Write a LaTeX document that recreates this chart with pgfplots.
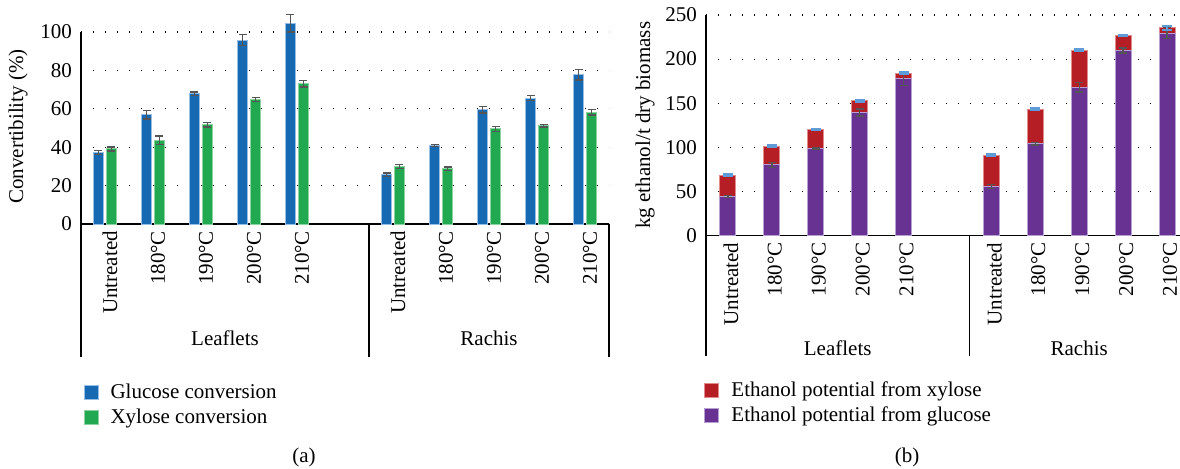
\documentclass[border=0pt]{standalone}
\usepackage{fontspec}
\setmainfont{Liberation Serif}
\usepackage{pgfplots}
\usepackage{pgfplotstable}
\pgfplotsset{compat=1.18}

\definecolor{cblue}{RGB}{23,105,178}
\definecolor{cblueedge}{RGB}{150,190,230}
\definecolor{cgreen}{RGB}{34,168,80}
\definecolor{cgreenedge}{RGB}{140,210,160}
\definecolor{cred}{RGB}{180,30,36}
\definecolor{crededge}{RGB}{225,140,140}
\definecolor{cpurple}{RGB}{103,50,145}
\definecolor{cpurpleedge}{RGB}{185,160,210}
\definecolor{errgray}{RGB}{85,85,85}
\definecolor{capblue}{RGB}{95,155,215}

\pgfplotstableread{
x glc glcerr xyl xylerr
0 37.3 1.0 39.1 1.0
1 56.9 2.2 43.6 2.3
2 67.9 0.9 51.7 1.2
3 95.8 2.8 64.9 1.1
4 104.5 4.5 73.1 1.7
6 25.7 0.9 30.0 1.0
7 41.0 0.5 28.8 0.9
8 59.5 1.7 49.5 1.3
9 65.6 1.2 51.2 0.6
10 77.8 2.8 58.2 1.5
}\convdata

\pgfplotstableread{
x glc glcerr xyl total totalerr
0 44.4 1.0 24.1 68.5 0.8
1 80.2 2.8 21.1 101.3 0.8
2 98.3 1.0 21.8 120.1 0.8
3 139.3 4.0 13.6 152.9 0.8
4 177.7 7.5 6.4 184.1 0.8
6 55.7 2.3 35.4 91.1 0.8
7 103.9 1.5 39.2 143.1 1.0
8 167.9 5.3 42.2 210.1 1.0
9 209.7 2.8 17.0 226.7 0.8
10 229.3 6.2 6.0 235.3 2.0
}\ethdata

\pgfplotsset{
  sqlegend/.style={legend image code/.code={\fill[##1] (0pt,-3.5pt) rectangle (7pt,3.5pt);}},
  base/.style={
    scale only axis, xmin=-0.5, xmax=10.5, ymin=0,
    axis x line*=bottom, axis y line*=left,
    axis line style={line width=0.6pt, black},
    major tick length=0pt,
    ymajorgrids,
    major grid style={black, line width=0.6pt, dash pattern=on 0.6pt off 5.4pt},
    xtick={0,1,2,3,4,6,7,8,9,10},
    xticklabels={Untreated,180°C,190°C,200°C,210°C,Untreated,180°C,190°C,200°C,210°C},
    xticklabel style={rotate=90, anchor=east},
    yticklabel style={xshift=-1pt},
    /pgf/number format/assume math mode=true,
    clip=false,
    legend cell align=left,
  },
  hiddenbase/.style={
    scale only axis, xmin=-0.5, xmax=10.5, ymin=0,
    hide axis, clip=false,
  },
  errs/.style={
    error bars/.cd, y dir=both, y explicit,
    error bar style={draw=errgray, line width=0.7pt, solid},
    error mark options={rotate=90, draw=errgray, mark size=2pt, line width=0.7pt, solid}},
}

\begin{document}
\begin{tikzpicture}[font=\fontsize{10.5}{12.6}\selectfont]

% ---------------- (a) ----------------
\begin{axis}[base,
  at={(40.5pt,122pt)}, anchor=south west,
  width=264pt, height=96pt, ymax=100,
  ytick={0,20,40,60,80,100},
  ybar=1.5pt, bar width=5pt,
  xticklabel style={yshift=-2.5pt},
  ylabel={Convertibility (\%)},
  ylabel style={at={(axis description cs:-0.119,0.508)}, rotate=0, anchor=center},
  legend style={at={(axis description cs:0.004,-0.81)}, anchor=north west,
    draw=none, fill=none, inner sep=0pt, row sep=-0.3pt,
    /tikz/every odd column/.append style={column sep=4pt}},
]
\addplot[fill=cblue, draw=cblueedge, line width=0.5pt, sqlegend, errs]
  table[x=x, y=glc, y error=glcerr]{\convdata};
\addlegendentry{Glucose conversion}
\addplot[fill=cgreen, draw=cgreenedge, line width=0.5pt, sqlegend, errs]
  table[x=x, y=xyl, y error=xylerr]{\convdata};
\addlegendentry{Xylose conversion}
\draw[line width=0.6pt] (axis cs:-0.5,0) -- ++(0pt,-66.5pt);
\draw[line width=0.6pt] (axis cs:5.5,0) -- ++(0pt,-66.5pt);
\draw[line width=0.6pt] (axis cs:10.5,0) -- ++(0pt,-66.5pt);
\node at ([yshift=-57pt]axis cs:2.5,0) {Leaflets};
\node at ([yshift=-57pt]axis cs:8,0) {Rachis};
\end{axis}

% ---------------- (b) ----------------
\begin{axis}[base,
  at={(353pt,116.25pt)}, anchor=south west,
  width=241.5pt, height=110.25pt, ymax=250,
  ytick={0,50,100,150,200,250},
  ybar stacked, bar width=8pt,
  xticklabel style={yshift=-1.5pt},
  ylabel={kg ethanol/t dry biomass},
  ylabel style={at={(axis description cs:-0.126,0.5)}, rotate=0, anchor=center},
  reverse legend,
  legend style={at={(axis description cs:-0.004,-0.641)}, anchor=north west,
    draw=none, fill=none, inner sep=0pt, row sep=-0.3pt,
    /tikz/every odd column/.append style={column sep=4pt}},
]
\addplot[fill=cpurple, draw=cpurpleedge, line width=0.5pt, sqlegend]
  table[x=x, y=glc]{\ethdata};
\addlegendentry{Ethanol potential from glucose}
\addplot[fill=cred, draw=crededge, line width=0.5pt, sqlegend]
  table[x=x, y=xyl]{\ethdata};
\addlegendentry{Ethanol potential from xylose}
\draw[line width=0.6pt] (axis cs:-0.5,0) -- ++(0pt,-60.25pt);
\draw[line width=0.6pt] (axis cs:5.5,0) -- ++(0pt,-60.25pt);
\draw[line width=0.6pt] (axis cs:10.5,0) -- ++(0pt,-60.25pt);
\node at ([yshift=-56.25pt]axis cs:2.5,0) {Leaflets};
\node at ([yshift=-56.25pt]axis cs:8,0) {Rachis};
\end{axis}

% error bars of (b), on an overlay axis with the same geometry
\begin{axis}[hiddenbase,
  at={(353pt,116.25pt)}, anchor=south west,
  width=241.5pt, height=110.25pt, ymax=250]
\addplot[draw=none, mark=none, errs]
  table[x=x, y=glc, y error=glcerr]{\ethdata};
\addplot[draw=none, mark=none,
  error bars/.cd, y dir=both, y explicit,
  error bar style={draw=capblue, line width=1pt, solid},
  error mark options={rotate=90, draw=capblue, mark size=2.5pt, line width=1.2pt, solid}]
  table[x=x, y=total, y error=totalerr]{\ethdata};
\end{axis}

\node at (152pt,5.5pt) {(a)};
\node at (453.5pt,5.5pt) {(b)};

\pgfresetboundingbox
\path (0pt,0pt) rectangle (590pt,234pt);
\end{tikzpicture}
\end{document}
